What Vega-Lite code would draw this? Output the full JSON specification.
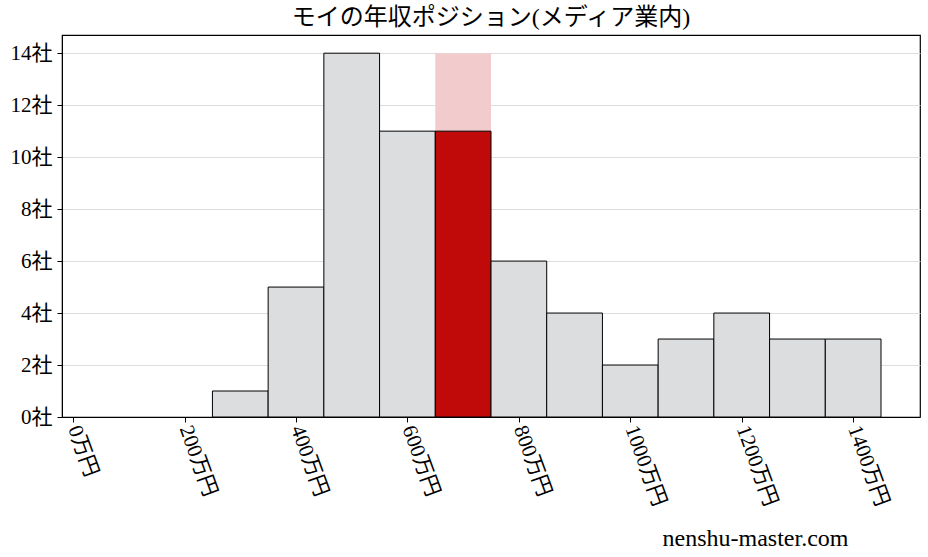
{
  "$schema": "https://vega.github.io/schema/vega-lite/v6.json",
  "autosize": "none",
  "width": 858,
  "height": 382,
  "padding": {"left": 62, "top": 35, "right": 8, "bottom": 140},
  "background": "white",
  "config": {
    "view": {"stroke": "black", "strokeWidth": 1.2},
    "font": "Liberation Serif, Noto Sans CJK JP",
    "axis": {"labelFont": "Liberation Serif, Noto Sans CJK JP", "titleFont": "Liberation Serif, Noto Sans CJK JP"}
  },
  "title": {
    "text": "モイの年収ポジション(メディア業内)",
    "font": "Liberation Serif, Noto Sans CJK JP",
    "fontSize": 24,
    "fontWeight": "normal",
    "color": "black",
    "anchor": "middle",
    "offset": 5
  },
  "datasets": {
    "bins": [
      {"lo": 250, "hi": 350, "count": 1, "self": "no"},
      {"lo": 350, "hi": 450, "count": 5, "self": "no"},
      {"lo": 450, "hi": 550, "count": 14, "self": "no"},
      {"lo": 550, "hi": 650, "count": 11, "self": "no"},
      {"lo": 650, "hi": 750, "count": 11, "self": "yes"},
      {"lo": 750, "hi": 850, "count": 6, "self": "no"},
      {"lo": 850, "hi": 950, "count": 4, "self": "no"},
      {"lo": 950, "hi": 1050, "count": 2, "self": "no"},
      {"lo": 1050, "hi": 1150, "count": 3, "self": "no"},
      {"lo": 1150, "hi": 1250, "count": 4, "self": "no"},
      {"lo": 1250, "hi": 1350, "count": 3, "self": "no"},
      {"lo": 1350, "hi": 1450, "count": 3, "self": "no"}
    ],
    "highlight": [
      {"lo": 650, "hi": 750, "count": 14}
    ]
  },
  "layer": [
    {
      "data": {"name": "highlight"},
      "mark": {"type": "bar", "color": "#f2cccc", "opacity": 1},
      "encoding": {
        "x": {
          "field": "lo", "type": "quantitative",
          "scale": {"domain": [-20, 1520], "nice": false, "zero": false},
          "axis": {
            "values": [0, 200, 400, 600, 800, 1000, 1200, 1400],
            "labelExpr": "datum.value + '万円'",
            "labelAngle": 70,
            "labelAlign": "left",
            "labelBaseline": "middle",
            "labelFontSize": 21,
            "labelColor": "black",
            "labelPadding": 4,
            "tickSize": 5,
            "tickColor": "black",
            "domainColor": "black",
            "grid": false,
            "title": "nenshu-master.com",
            "titleFontSize": 24,
            "titleFontWeight": "normal",
            "titleColor": "black",
            "titleAnchor": "end",
            "titleAlign": "right",
            "titleX": 786,
            "titleY": 128,
            "titleBaseline": "alphabetic"
          }
        },
        "x2": {"field": "hi"},
        "y": {
          "field": "count", "type": "quantitative",
          "scale": {"domain": [0, 14.7], "nice": false},
          "axis": {
            "values": [0, 2, 4, 6, 8, 10, 12, 14],
            "labelExpr": "datum.value + '社'",
            "labelFontSize": 21,
            "labelColor": "black",
            "labelPadding": 5,
            "tickSize": 5,
            "tickColor": "black",
            "domainColor": "black",
            "grid": true,
            "gridColor": "#dddddd",
            "gridWidth": 1,
            "title": null
          }
        },
        "y2": {"datum": 0}
      }
    },
    {
      "data": {"name": "bins"},
      "mark": {"type": "bar", "stroke": "black", "strokeWidth": 1, "opacity": 1},
      "encoding": {
        "x": {"field": "lo", "type": "quantitative"},
        "x2": {"field": "hi"},
        "y": {"field": "count", "type": "quantitative"},
        "y2": {"datum": 0},
        "fill": {
          "field": "self", "type": "nominal",
          "scale": {"domain": ["no", "yes"], "range": ["#dcdddf", "#c00a0a"]},
          "legend": null
        }
      }
    }
  ]
}
